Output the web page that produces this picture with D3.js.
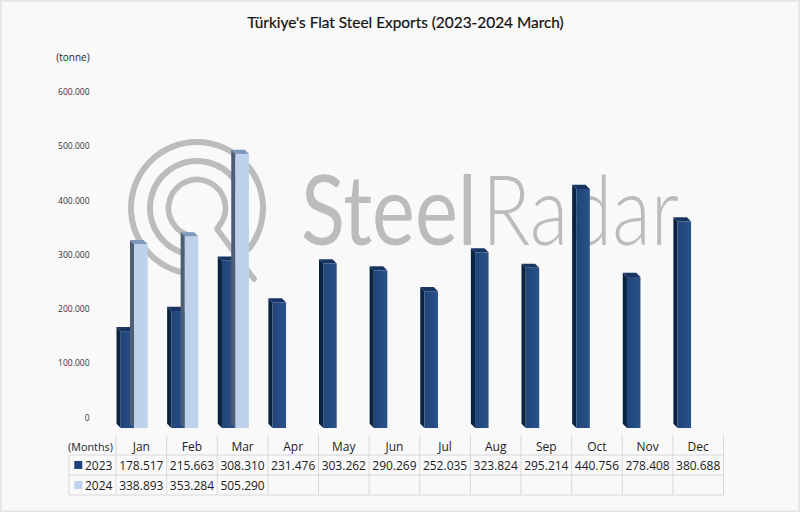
<!DOCTYPE html>
<html><head><meta charset="utf-8">
<script src="https://cdn.jsdelivr.net/npm/d3@7"></script>
<style>html,body{margin:0;padding:0;background:#f9f9f9}svg{display:block}text{fill:#1c1c1c}</style>
</head><body><svg id="c" width="800" height="512"></svg>
<script>
const months = ["Jan","Feb","Mar","Apr","May","Jun","Jul","Aug","Sep","Oct","Nov","Dec"];
const values2023 = [178517,215663,308310,231476,303262,290269,252035,323824,295214,440756,278408,380688];
const values2024 = [338893,353284,505290,null,null,null,null,null,null,null,null,null];
const yTicks = [0,100000,200000,300000,400000,500000,600000];
const titleText = "Türkiye's Flat Steel Exports (2023-2024 March)";

const svg = d3.select("#c");
const fmt = d3.formatLocale({decimal:",",thousands:".",grouping:[3],currency:["",""]}).format(",d");
const x = d3.scaleBand().domain(months).range([116,723.5]);
const y = d3.scaleLinear().domain([0,600000]).range([428,102.5]);
const barW = 13.5, depth = 4.2, leftPad = 4.7;

// frame
svg.append("rect").attr("x",0.75).attr("y",0.75).attr("width",798.5).attr("height",510.5)
  .attr("fill","#f9f9f9").attr("stroke","#e4e4e4").attr("stroke-width",1.5);

const defs = svg.append("defs");
function grad(id,stops){
  const g = defs.append("linearGradient").attr("id",id).attr("x1",0).attr("x2",1).attr("y1",0).attr("y2",0);
  stops.forEach((c,i)=>g.append("stop").attr("offset",i/(stops.length-1)).attr("stop-color",c));
}
grad("f23",["#1f4479","#2a5289"]);
grad("f24",["#bdd1ec","#c0d3ec"]);

// watermark
const logo = svg.append("g").attr("fill","none").attr("stroke","#bcbcbc").attr("stroke-linecap","round");
const deg = Math.PI/180, cx = 197, cy = 208;
[[66,190,488,6],[47,190,460,6],[28.5,190,486,5.6]].forEach(([r,a0,a1,w])=>{
  const p = d3.path();
  p.arc(cx,cy,r,(a0-90)*deg,(a1-90)*deg,false);
  logo.append("path").attr("d",p.toString()).attr("stroke-width",w);
});
logo.append("path").attr("d","M220,224L217,229L254,279").attr("stroke-width",5.6).attr("stroke-linejoin","round");
function wordmark(word,left,width,weight){
  const t = svg.append("text").attr("font-family","Lato").attr("font-weight",weight)
    .attr("font-size",96).style("fill","#bcbcbc").text(word);
  const natural = t.node().getComputedTextLength();
  t.attr("transform",`translate(${left},245) scale(${width/natural},1)`);
}
wordmark("Steel",301,176,400);
wordmark("Radar",482,197,300);

// title + units
svg.append("text").attr("x",405.5).attr("y",28).attr("text-anchor","middle")
  .attr("font-family","Lato").attr("font-size",15.4).style("fill","#111").style("stroke","#111").style("stroke-width",0.2).text(titleText);
svg.append("text").attr("x",73).attr("y",61).attr("text-anchor","middle")
  .attr("font-family","Open Sans").attr("font-size",10).text("(tonne)");

// y labels
svg.append("g").selectAll("text").data(yTicks).join("text")
  .attr("x",89.5).attr("y",d=>y(d)-10.5+3).attr("text-anchor","end")
  .attr("font-family","Open Sans").attr("font-size",8.5).style("fill","#333")
  .text(d=>fmt(d));

// bars
const pts = a=>a.map(p=>p.join(",")).join(" ");
function bar(g,x0,v,cols,fill){
  const t = y(v), b = y(0), r = x0+barW;
  g.append("polygon").attr("points",pts([[x0-depth,t-depth],[x0,t],[x0,b],[x0-depth,b-depth]])).attr("fill",cols.side);
  g.append("polygon").attr("points",pts([[x0-depth,t-depth],[r-depth,t-depth],[r,t],[x0,t]])).attr("fill",cols.top);
  g.append("rect").attr("x",x0).attr("y",t).attr("width",barW).attr("height",b-t).attr("fill",fill);
}
const bars = svg.append("g");
months.forEach((m,i)=>{
  const x0 = x(m)+leftPad;
  bar(bars,x0,values2023[i],{side:"#0b2343",top:"#173463"},"url(#f23)");
  if(values2024[i]!=null) bar(bars,x0+barW,values2024[i],{side:"#4e5e74",top:"#7d98ba"},"url(#f24)");
});

// table
const rowY = [435,455,475,495], tLeft = 69, tRight = 723.5;
const tg = svg.append("g").attr("stroke","#d8d8d8").attr("stroke-width",1);
rowY.slice(1).forEach(v=>tg.append("line").attr("x1",tLeft).attr("x2",tRight).attr("y1",v).attr("y2",v));
tg.append("line").attr("x1",tLeft).attr("x2",tLeft).attr("y1",455).attr("y2",495);
months.forEach(m=>tg.append("line").attr("x1",x(m)).attr("x2",x(m)).attr("y1",435).attr("y2",495));
tg.append("line").attr("x1",tRight).attr("x2",tRight).attr("y1",435).attr("y2",495);

const cell = (xp,yp,t,size,anchor="middle")=>svg.append("text").attr("x",xp).attr("y",yp)
  .attr("text-anchor",anchor).attr("font-family","Open Sans").attr("font-size",size).text(t);
cell(90.5,451,"(Months)",10.8);
months.forEach((m,i)=>{
  const c = x(m)+x.bandwidth()/2;
  cell(c,451,m,12);
  cell(c,470,fmt(values2023[i]),12);
  if(values2024[i]!=null) cell(c,490,fmt(values2024[i]),12);
});
[["2023","#1f4479",461],["2024","#bdd1ec",481]].forEach(([n,col,yy])=>{
  svg.append("rect").attr("x",74.3).attr("y",yy).attr("width",8).attr("height",8).attr("fill",col);
  cell(85,yy+9,n,12,"start");
});
</script></body></html>
